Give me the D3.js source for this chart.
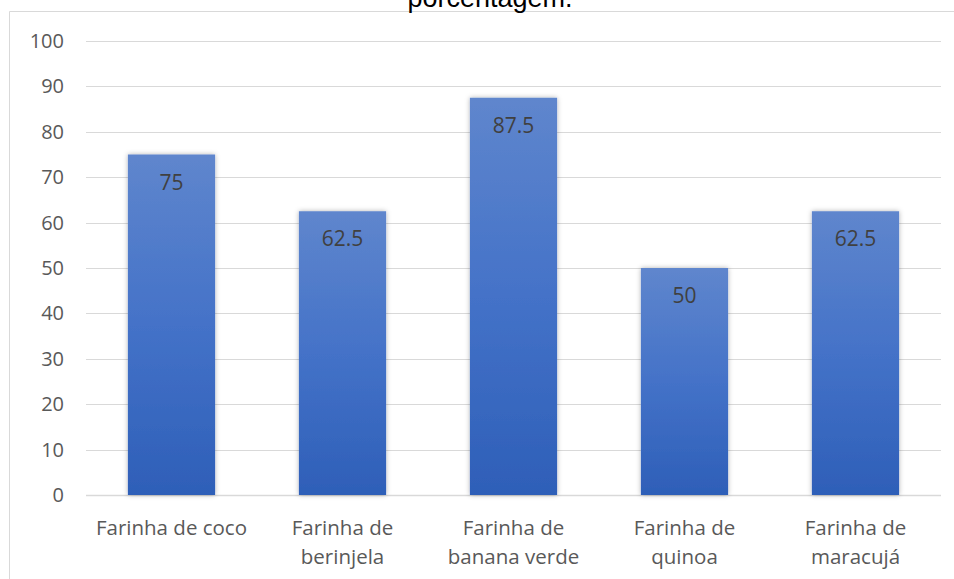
<!DOCTYPE html>
<html>
<head>
<meta charset="utf-8">
<script src="https://cdn.jsdelivr.net/npm/d3@7"></script>
<style>
  body { margin: 0; background: #fff; }
  svg { display: block; }
</style>
</head>
<body>
<svg id="chart"></svg>
<script>
// data
const categories = [
    ["Farinha de coco"],
    ["Farinha de", "berinjela"],
    ["Farinha de", "banana verde"],
    ["Farinha de", "quinoa"],
    ["Farinha de", "maracujá"]
];
const values = [75, 62.5, 87.5, 50, 62.5];
const valueLabels = ["75", "62.5", "87.5", "50", "62.5"];
const yTicks = [0, 10, 20, 30, 40, 50, 60, 70, 80, 90, 100];
const titleText = "porcentagem.";

const width = 954;
const height = 579;
const margin = { top: 41, right: 13, bottom: 84, left: 86 };
const font = "'Open Sans', 'Noto Sans', sans-serif";

const svg = d3.select("#chart")
    .attr("width", width)
    .attr("height", height);

const defs = svg.append("defs");
const grad = defs.append("linearGradient")
    .attr("id", "barGrad")
    .attr("x1", 0).attr("y1", 0).attr("x2", 0).attr("y2", 1);
grad.append("stop").attr("offset", "0%").attr("stop-color", "#5f86cd");
grad.append("stop").attr("offset", "50%").attr("stop-color", "#4472c8");
grad.append("stop").attr("offset", "100%").attr("stop-color", "#2e5fb8");

const shadow = defs.append("filter")
    .attr("id", "shadow")
    .attr("x", "-20%").attr("y", "-10%")
    .attr("width", "140%").attr("height", "120%");
shadow.append("feDropShadow")
    .attr("dx", 0).attr("dy", 0)
    .attr("stdDeviation", 2.5)
    .attr("flood-color", "#000")
    .attr("flood-opacity", 0.3);

// chart area border (left + top visible)
svg.append("path")
    .attr("d", `M9.5,${height} V11.5 H${width}`)
    .attr("fill", "none")
    .attr("stroke", "#d9d9d9")
    .attr("stroke-width", 1);

// title, partly cut off at the top as in the source image
svg.append("text")
    .attr("x", 490)
    .attr("y", 7)
    .attr("text-anchor", "middle")
    .attr("font-family", "'Liberation Sans', Arial, sans-serif")
    .attr("font-size", 27)
    .attr("fill", "#000")
    .text(titleText);

const xScale = d3.scaleBand()
    .domain(d3.range(categories.length))
    .range([margin.left, width - margin.right])
    .paddingInner(0.49)
    .paddingOuter(0.245);

const yScale = d3.scaleLinear()
    .domain([0, 100])
    .range([height - margin.bottom, margin.top]);

// gridlines
svg.append("g")
    .selectAll("line")
    .data(yTicks)
    .join("line")
    .attr("x1", margin.left)
    .attr("x2", width - margin.right)
    .attr("y1", d => Math.round(yScale(d)) + 0.5)
    .attr("y2", d => Math.round(yScale(d)) + 0.5)
    .attr("stroke", "#d9d9d9")
    .attr("stroke-width", d => d === 0 ? 1.5 : 1.2);

// y axis labels
const yAxis = d3.axisLeft(yScale)
    .tickValues(yTicks)
    .tickSize(0)
    .tickPadding(22);
const yg = svg.append("g")
    .attr("transform", `translate(${margin.left},0)`)
    .call(yAxis);
yg.select(".domain").remove();
yg.selectAll("text")
    .attr("font-family", font)
    .attr("font-size", 20)
    .attr("fill", "#595959");

// bars
svg.append("g")
    .selectAll("rect")
    .data(values)
    .join("rect")
    .attr("x", (d, i) => xScale(i))
    .attr("y", d => yScale(d))
    .attr("width", xScale.bandwidth())
    .attr("height", d => yScale(0) - yScale(d))
    .attr("fill", "url(#barGrad)")
    .attr("filter", "url(#shadow)");

// value labels
svg.append("g")
    .selectAll("text")
    .data(values)
    .join("text")
    .attr("x", (d, i) => xScale(i) + xScale.bandwidth() / 2)
    .attr("y", d => yScale(d) + 35)
    .attr("text-anchor", "middle")
    .attr("font-family", font)
    .attr("font-size", 21)
    .attr("fill", "#404040")
    .text((d, i) => valueLabels[i]);

// x axis category labels
const xg = svg.append("g");
categories.forEach((lines, i) => {
    const t = xg.append("text")
        .attr("x", xScale(i) + xScale.bandwidth() / 2)
        .attr("y", 535)
        .attr("text-anchor", "middle")
        .attr("font-family", font)
        .attr("font-size", 20.5)
        .attr("fill", "#595959");
    lines.forEach((s, j) => {
        t.append("tspan")
            .attr("x", xScale(i) + xScale.bandwidth() / 2)
            .attr("dy", j === 0 ? 0 : 29)
            .text(s);
    });
});
</script>
</body>
</html>
